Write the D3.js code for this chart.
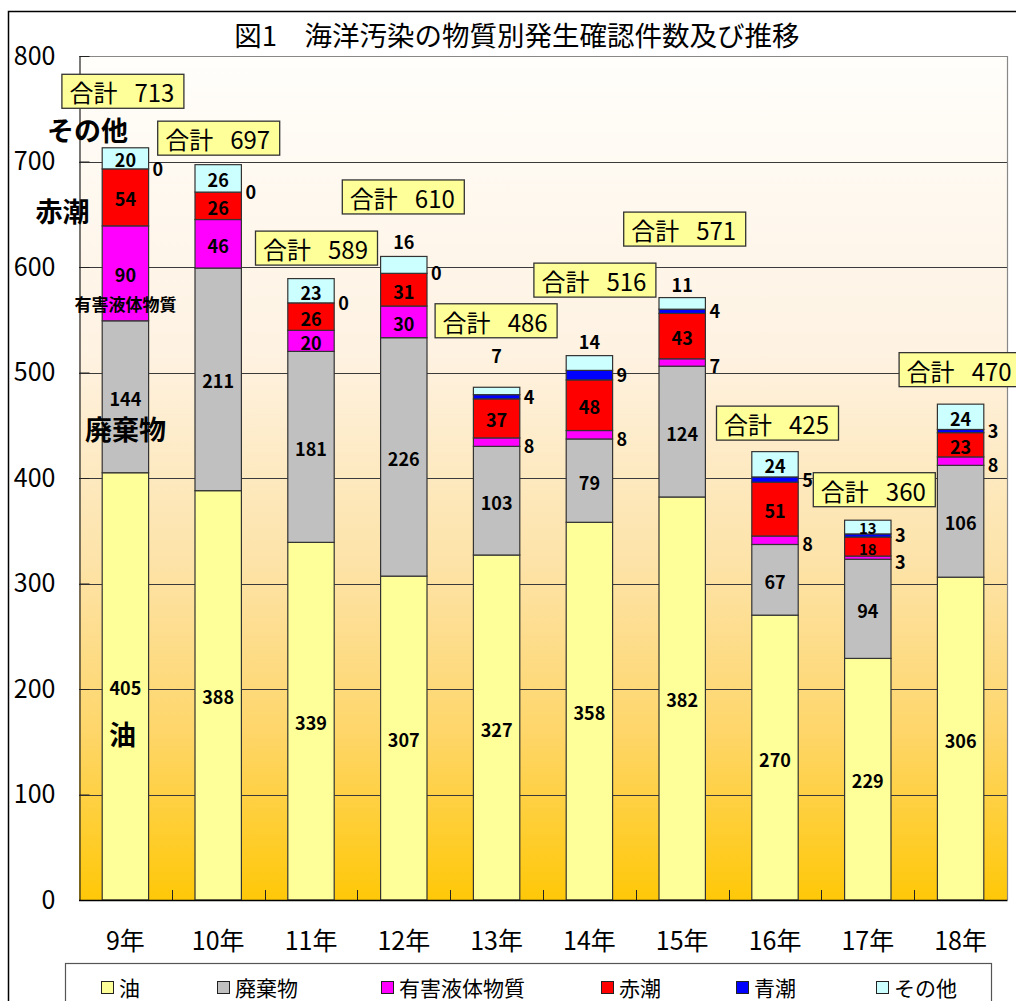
<!DOCTYPE html>
<html lang="ja">
<head>
<meta charset="utf-8">
<title>図1 海洋汚染の物質別発生確認件数及び推移</title>
<script src="https://cdn.jsdelivr.net/npm/d3@7"></script>
<style>
  html, body { margin: 0; padding: 0; background: #fff; }
  svg { display: block; font-family: "Noto Sans CJK JP", "Noto Sans", sans-serif; }
</style>
</head>
<body>
<svg id="chart" width="1016" height="1001"></svg>
<script>
// ---- data -------------------------------------------------------------
const years      = ['9年', '10年', '11年', '12年', '13年', '14年', '15年', '16年', '17年', '18年'];
const oil        = [405, 388, 339, 307, 327, 358, 382, 270, 229, 306];
const waste      = [144, 211, 181, 226, 103,  79, 124,  67,  94, 106];
const harmful    = [ 90,  46,  20,  30,   8,   8,   7,   8,   3,   8];
const redTide    = [ 54,  26,  26,  31,  37,  48,  43,  51,  18,  23];
const blueTide   = [  0,   0,   0,   0,   4,   9,   4,   5,   3,   3];
const other      = [ 20,  26,  23,  16,   7,  14,  11,  24,  13,  24];
const totals     = [713, 697, 589, 610, 486, 516, 571, 425, 360, 470];
const seriesKeys = ['油', '廃棄物', '有害液体物質', '赤潮', '青潮', 'その他'];
const yTicks     = [0, 100, 200, 300, 400, 500, 600, 700, 800];
const titleText  = '図1　海洋汚染の物質別発生確認件数及び推移';

// ---- look & layout ----------------------------------------------------
const colors = {
  '油': '#ffff99', '廃棄物': '#c0c0c0', '有害液体物質': '#ff00ff',
  '赤潮': '#ff0000', '青潮': '#0000ff', 'その他': '#ccffff'
};
const plot = { left: 79, right: 1007, top: 56, bottom: 900 };

// offsets of each 合計 box from (bar centre, top of stack), in px
const totalBoxOffset = [
  [-64, -74], [-61, -44], [-56, -48], [-62, -77], [-62, -84],
  [-56, -93], [-59, -86], [-59, -46], [-55, -48], [-62, -52]
];
// years whose small その他 value is written above the bar (gap in px)
const otherAboveGap = { '12年': 15, '13年': 32, '14年': 15, '15年': 14 };
// vertical nudge of labels written to the right of a bar, per series (px)
const rightNudge = { '青潮': -1, '有害液体物質': 3 };
// series names written beside the first bar: [text, level on value axis, dx, font size]
const sideNotes = [
  ['その他', 730, -38, 27],
  ['赤潮', 654, -63, 27],
  ['有害液体物質', 565, 0, 17],
  ['廃棄物', 447, 0, 27],
  ['油', 158, -3, 27]
];
const legendX = [101, 217, 381, 601, 736, 876];

// ---- build table & scales --------------------------------------------
const columns = [oil, waste, harmful, redTide, blueTide, other];
const table = years.map((y, i) => {
  const row = { year: y };
  seriesKeys.forEach((k, j) => { row[k] = columns[j][i]; });
  return row;
});
const stacked = d3.stack().keys(seriesKeys)(table);

const x = d3.scaleBand().domain(years)
  .range([plot.left, plot.right]).paddingInner(0.5).paddingOuter(0.25);
const yS = d3.scaleLinear().domain([0, 800]).range([plot.bottom, plot.top]);

const svg = d3.select('#chart');
const defs = svg.append('defs');
const grad = defs.append('linearGradient').attr('id', 'bg')
  .attr('x1', 0).attr('y1', 0).attr('x2', 0).attr('y2', 1);
[['0%', '#fffefb'], ['35%', '#fef2e2'], ['60%', '#fde3a8'], ['80%', '#fed66a'], ['100%', '#ffc808']]
  .forEach(([o, c]) => grad.append('stop').attr('offset', o).attr('stop-color', c));

// outer frame
svg.append('rect').attr('x', 8.5).attr('y', 11.5).attr('width', 1020).attr('height', 1000)
  .attr('fill', 'none').attr('stroke', '#000').attr('stroke-width', 1.5);

// title
svg.append('text').attr('x', 517).attr('y', 34)
  .attr('text-anchor', 'middle').attr('dominant-baseline', 'central')
  .attr('font-size', 27.5).attr('fill', '#000').text(titleText);

// plot background
svg.append('rect').attr('x', plot.left).attr('y', plot.top)
  .attr('width', plot.right - plot.left).attr('height', plot.bottom - plot.top)
  .attr('fill', 'url(#bg)');

// gridlines
svg.append('g').selectAll('line').data(yTicks.filter(t => t > 0 && t < 800)).join('line')
  .attr('x1', plot.left).attr('x2', plot.right)
  .attr('y1', d => Math.round(yS(d)) + 0.5).attr('y2', d => Math.round(yS(d)) + 0.5)
  .attr('stroke', '#3a3a3a').attr('stroke-width', 1);

// plot border (top / right)
svg.append('path')
  .attr('d', `M${plot.left},${plot.top + 0.5}H${plot.right + 0.5}V${plot.bottom}`)
  .attr('fill', 'none').attr('stroke', '#888').attr('stroke-width', 1.2);

// y axis
const yAxis = svg.append('g').attr('transform', `translate(${plot.left + 0.5},0)`)
  .call(d3.axisLeft(yS).tickValues(yTicks).tickSize(-10).tickSizeOuter(0).tickPadding(24));
yAxis.select('.domain').attr('stroke', '#222').attr('stroke-width', 1.2);
yAxis.selectAll('.tick line').attr('stroke', '#222');
yAxis.selectAll('.tick text').attr('font-size', 25).attr('fill', '#000')
  .attr('font-family', '"Noto Sans CJK JP", sans-serif');

// bars
const barG = svg.append('g');
stacked.forEach(layer => {
  barG.append('g').selectAll('rect').data(layer).join('rect')
    .attr('x', d => x(d.data.year))
    .attr('width', x.bandwidth())
    .attr('y', d => yS(d[1]))
    .attr('height', d => yS(d[0]) - yS(d[1]))
    .attr('fill', colors[layer.key])
    .attr('stroke', '#333').attr('stroke-width', d => (d[1] - d[0]) > 0 ? 1.2 : 0);
});

// x axis with ticks between categories
const xAxis = svg.append('g').attr('transform', `translate(0,${plot.bottom})`)
  .call(d3.axisBottom(x).tickSize(0).tickPadding(0));
xAxis.select('.domain').remove();
xAxis.selectAll('.tick text').attr('font-size', 25).attr('fill', '#000')
  .attr('y', 41).attr('dy', '0.35em')
  .attr('font-family', '"Noto Sans CJK JP", sans-serif');
const step = x.step();
const bounds = years.slice(1).map(y => x(y) - step * x.paddingInner() / 2);
svg.append('g').selectAll('line').data(bounds).join('line')
  .attr('x1', d => Math.round(d) + 0.5).attr('x2', d => Math.round(d) + 0.5)
  .attr('y1', plot.bottom).attr('y2', plot.bottom - 10)
  .attr('stroke', '#222').attr('stroke-width', 1);
svg.append('line').attr('x1', plot.left).attr('x2', plot.right + 0.5)
  .attr('y1', plot.bottom + 0.5).attr('y2', plot.bottom + 0.5)
  .attr('stroke', '#000').attr('stroke-width', 1.5);

// value labels
const labG = svg.append('g').attr('font-weight', 'bold').attr('fill', '#000');
stacked.forEach(layer => {
  layer.forEach(d => {
    const v = d[1] - d[0];
    const yr = d.data.year;
    const cx = x(yr) + x.bandwidth() / 2;
    const cy = (yS(d[0]) + yS(d[1])) / 2;
    const segH = yS(d[0]) - yS(d[1]);
    let place = 'inside';
    if (layer.key === '青潮') place = 'right';
    if (layer.key === '有害液体物質' && v < 20) place = 'right';
    if (layer.key === 'その他' && otherAboveGap[yr] !== undefined) place = 'above';
    const cramped = place === 'inside' && segH < 20;
    const t = labG.append('text').attr('dominant-baseline', 'central')
      .attr('font-size', cramped ? 15 : 18).text(v);
    if (place === 'inside') {
      const nudge = cramped ? (layer.key === 'その他' ? 0 : 2) : 1;
      t.attr('x', cx).attr('y', cy + nudge).attr('text-anchor', 'middle');
    } else if (place === 'right') {
      t.attr('x', x(yr) + x.bandwidth() + 4).attr('y', cy + rightNudge[layer.key])
        .attr('text-anchor', 'start');
    } else {
      t.attr('x', cx).attr('y', yS(d[1]) - otherAboveGap[yr]).attr('text-anchor', 'middle');
    }
  });
});

// total boxes
const boxW = 122, boxH = 34;
const boxG = svg.append('g');
years.forEach((yr, i) => {
  const bx = x(yr) + x.bandwidth() / 2 + totalBoxOffset[i][0];
  const by = yS(totals[i]) + totalBoxOffset[i][1];
  const g = boxG.append('g').attr('transform', `translate(${bx},${by})`);
  g.append('rect').attr('x', 0.5).attr('y', 0.5).attr('width', boxW).attr('height', boxH)
    .attr('fill', '#ffff99').attr('stroke', '#333').attr('stroke-width', 1.3);
  g.append('text').attr('x', 8).attr('y', boxH / 2 + 1).attr('dominant-baseline', 'central')
    .attr('font-size', 24).attr('fill', '#000').text('合計');
  g.append('text').attr('x', boxW - 9).attr('y', boxH / 2 + 1).attr('dominant-baseline', 'central')
    .attr('text-anchor', 'end').attr('font-size', 24).attr('fill', '#000').text(totals[i]);
});

// series names beside the first bar
const c0 = x(years[0]) + x.bandwidth() / 2;
svg.append('g').selectAll('text').data(sideNotes).join('text')
  .attr('x', d => c0 + d[2]).attr('y', d => yS(d[1]))
  .attr('text-anchor', 'middle').attr('dominant-baseline', 'central')
  .attr('font-weight', 'bold').attr('font-size', d => d[3]).attr('fill', '#000')
  .text(d => d[0]);

// legend
const lg = svg.append('g');
lg.append('rect').attr('x', 65.5).attr('y', 963.5).attr('width', 926).attr('height', 60)
  .attr('fill', '#fff').attr('stroke', '#555').attr('stroke-width', 1.2);
seriesKeys.forEach((k, i) => {
  lg.append('rect').attr('x', legendX[i] + 0.5).attr('y', 981.5).attr('width', 12).attr('height', 12)
    .attr('fill', colors[k]).attr('stroke', '#222').attr('stroke-width', 1);
  lg.append('text').attr('x', legendX[i] + 18).attr('y', 987).attr('dominant-baseline', 'central')
    .attr('font-size', 21).attr('fill', '#000').text(k);
});
</script>
</body>
</html>
